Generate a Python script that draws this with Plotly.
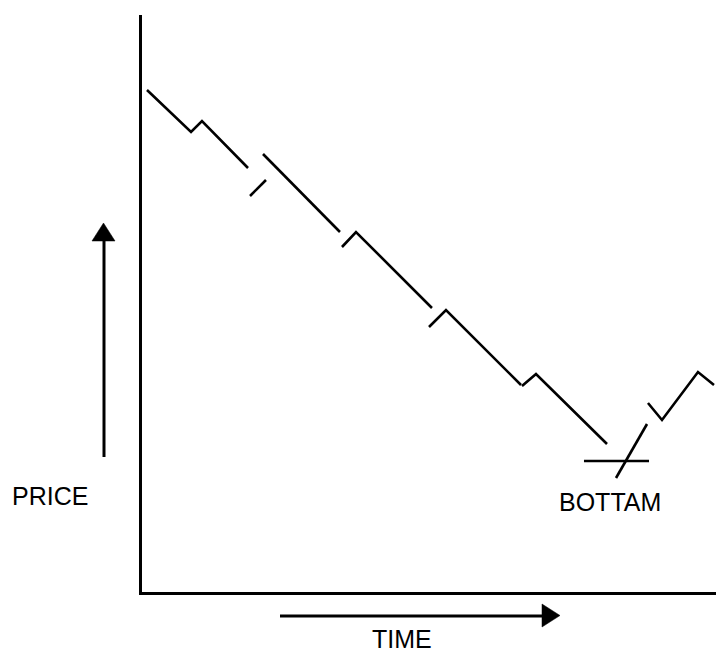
import plotly.graph_objects as go

# Schematic price path: separate strokes (time, price) in arbitrary units 0-100
stroke_names = ["s1", "s2", "s3", "s4", "s5", "s6", "bottom", "breakout", "s7"]
stroke_time = [
    [0.87, 8.54, 10.45, 18.47],
    [18.82, 21.60],
    [21.08, 34.49],
    [34.84, 37.28, 50.52],
    [50.0, 52.96, 66.03],
    [66.20, 68.64, 81.01],
    [77.00, 88.33],
    [82.58, 87.98],
    [88.15, 90.59, 96.86, 99.65],
]
stroke_price = [
    [87.00, 79.72, 81.63, 73.48],
    [68.63, 71.40],
    [75.91, 62.39],
    [59.79, 62.39, 49.22],
    [45.93, 48.87, 35.88],
    [35.70, 37.78, 25.65],
    [22.70, 22.70],
    [19.76, 29.12],
    [32.76, 29.81, 38.13, 35.88],
]

labels = ["PRICE", "TIME", "BOTTAM"]
label_x = [-0.1603, 0.453, 0.8153]
label_y = [0.1664, -0.0815, 0.156]

W, H = 716, 653
L, R, T, B = 142, 0, 15, 61

fig = go.Figure()
for name, xs, ys in zip(stroke_names, stroke_time, stroke_price):
    fig.add_trace(go.Scatter(x=xs, y=ys, mode="lines", name=name,
                             line=dict(color="black", width=2.6),
                             hoverinfo="skip"))

font = dict(family="Liberation Sans, Arial, sans-serif", size=25, color="black")
for t, x, y in zip(labels, label_x, label_y):
    fig.add_annotation(text=t, x=x, y=y, xref="paper", yref="paper",
                       showarrow=False, font=font, xanchor="center", yanchor="middle")

pw = W - L - R
ph = H - T - B
def px(xp):
    return (xp - L) / pw
def py(yp):
    return (H - B - yp) / ph

# PRICE arrow (upward)
fig.add_shape(type="line", xref="paper", yref="paper",
              x0=px(104), y0=py(457), x1=px(104), y1=py(238),
              line=dict(color="black", width=3))
fig.add_shape(type="path", xref="paper", yref="paper",
              path=f"M {px(92)},{py(241)} L {px(115)},{py(241)} L {px(103.5)},{py(223)} Z",
              fillcolor="black", line=dict(color="black", width=0.5))
# TIME arrow (rightward)
fig.add_shape(type="line", xref="paper", yref="paper",
              x0=px(280), y0=py(616), x1=px(545), y1=py(616),
              line=dict(color="black", width=3))
fig.add_shape(type="path", xref="paper", yref="paper",
              path=f"M {px(542)},{py(604)} L {px(542)},{py(627)} L {px(560)},{py(615.5)} Z",
              fillcolor="black", line=dict(color="black", width=0.5))

fig.update_layout(
    width=W, height=H,
    margin=dict(l=L, r=R, t=T, b=B, pad=0),
    paper_bgcolor="white", plot_bgcolor="white",
    showlegend=False,
    xaxis=dict(range=[0, 100], showline=True, linecolor="black", linewidth=3,
               showgrid=False, zeroline=False, showticklabels=False, ticks="",
               fixedrange=True),
    yaxis=dict(range=[0, 100], showline=True, linecolor="black", linewidth=3,
               showgrid=False, zeroline=False, showticklabels=False, ticks="",
               fixedrange=True),
)

fig.write_html("out.html", config={"displayModeBar": False},
               post_script="document.body.style.margin='0px';document.body.style.overflow='hidden';")
